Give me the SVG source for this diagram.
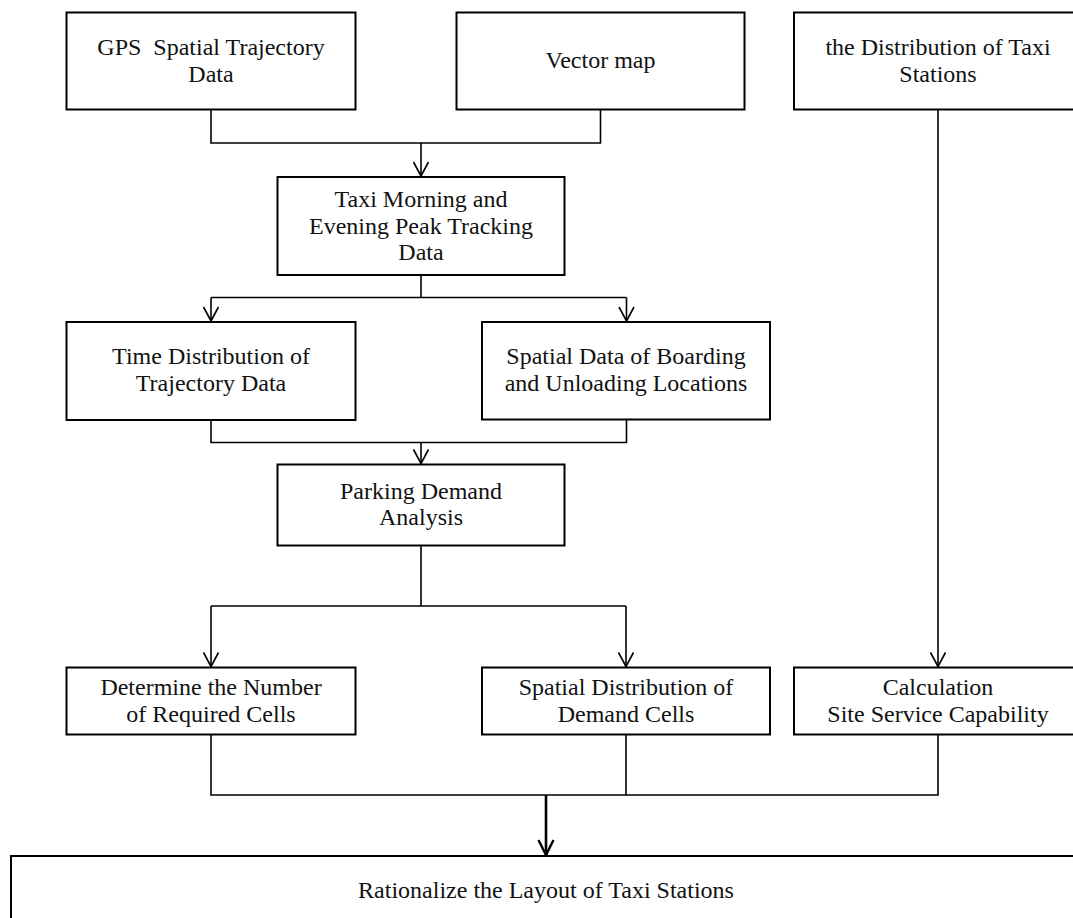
<svg xmlns="http://www.w3.org/2000/svg" width="1073" height="918" viewBox="0 0 1073 918">
  <style>
    .box { fill: #ffffff; stroke: #000000; stroke-width: 2; }
    .lbl { font-family: "Liberation Serif", "Times New Roman", serif; font-size: 24px; fill: #111111; text-anchor: middle; }
    .con { fill: none; stroke: #000000; stroke-width: 1.6; }
    .thick { fill: none; stroke: #000000; stroke-width: 2.6; }
  </style>
  <defs>
    <marker id="arr" markerUnits="userSpaceOnUse" markerWidth="16" markerHeight="18" viewBox="0 0 16 18" refX="15" refY="9" orient="auto" overflow="visible">
      <path d="M1,1.5 L15,9 L1,16.5" fill="none" stroke="#000000" stroke-width="1.6"/>
    </marker>
    <marker id="arrB" markerUnits="userSpaceOnUse" markerWidth="18" markerHeight="18" viewBox="0 0 18 18" refX="16" refY="9" orient="auto" overflow="visible">
      <path d="M1,1.5 L16,9 L1,16.5" fill="none" stroke="#000000" stroke-width="2.4"/>
    </marker>
  </defs>
  <rect width="1073" height="918" fill="#ffffff"/>

  <g id="connectors">
    <path class="con" d="M211,109.5 V143 H600.5 V109.5"/>
    <path class="con" d="M421,143 V176" marker-end="url(#arr)"/>
    <path class="con" d="M421,275 V297.5"/>
    <path class="con" d="M211,297.5 H626.5"/>
    <path class="con" d="M211,297.5 V321" marker-end="url(#arr)"/>
    <path class="con" d="M626.5,297.5 V321" marker-end="url(#arr)"/>
    <path class="con" d="M211,420 V442.5 H626.5 V419.5"/>
    <path class="con" d="M421,442.5 V463.5" marker-end="url(#arr)"/>
    <path class="con" d="M421,545.5 V606"/>
    <path class="con" d="M211,606 H626"/>
    <path class="con" d="M211,606 V666.5" marker-end="url(#arr)"/>
    <path class="con" d="M626,606 V666.5" marker-end="url(#arr)"/>
    <path class="con" d="M938,109.5 V666.5" marker-end="url(#arr)"/>
    <path class="con" d="M211,734.5 V795 H938 V734.5"/>
    <path class="con" d="M626,734.5 V795"/>
    <path class="thick" d="M546,795 V855" marker-end="url(#arrB)"/>
  </g>

  <g id="gps">
    <rect class="box" x="66.5" y="12.5" width="289" height="97"/>
    <text class="lbl" x="211" y="55" xml:space="preserve">GPS  Spatial Trajectory</text>
    <text class="lbl" x="211" y="82">Data</text>
  </g>
  <g id="vector-map">
    <rect class="box" x="456.5" y="12.5" width="288" height="97"/>
    <text class="lbl" x="600.5" y="68">Vector map</text>
  </g>
  <g id="distribution">
    <rect class="box" x="794" y="12.5" width="292" height="97"/>
    <text class="lbl" x="938" y="55">the Distribution of Taxi</text>
    <text class="lbl" x="938" y="82">Stations</text>
  </g>
  <g id="taxi-peak">
    <rect class="box" x="277.5" y="177" width="287" height="98"/>
    <text class="lbl" x="421" y="207">Taxi Morning and</text>
    <text class="lbl" x="421" y="233.5">Evening Peak Tracking</text>
    <text class="lbl" x="421" y="260">Data</text>
  </g>
  <g id="time-distribution">
    <rect class="box" x="66.5" y="322" width="289" height="98"/>
    <text class="lbl" x="211" y="364">Time Distribution of</text>
    <text class="lbl" x="211" y="390.5">Trajectory Data</text>
  </g>
  <g id="spatial-data">
    <rect class="box" x="482" y="322" width="288" height="97.5"/>
    <text class="lbl" x="626" y="364">Spatial Data of Boarding</text>
    <text class="lbl" x="626" y="390.5">and Unloading Locations</text>
  </g>
  <g id="parking-demand">
    <rect class="box" x="277.5" y="464.5" width="287" height="81"/>
    <text class="lbl" x="421" y="498.5">Parking Demand</text>
    <text class="lbl" x="421" y="525">Analysis</text>
  </g>
  <g id="determine-number">
    <rect class="box" x="66.5" y="667.5" width="289" height="67"/>
    <text class="lbl" x="211" y="695">Determine the Number</text>
    <text class="lbl" x="211" y="721.5">of Required Cells</text>
  </g>
  <g id="spatial-distribution">
    <rect class="box" x="482" y="667.5" width="288" height="67"/>
    <text class="lbl" x="626" y="695">Spatial Distribution of</text>
    <text class="lbl" x="626" y="721.5">Demand Cells</text>
  </g>
  <g id="calculation">
    <rect class="box" x="794" y="667.5" width="292" height="67"/>
    <text class="lbl" x="938" y="695">Calculation</text>
    <text class="lbl" x="938" y="721.5">Site Service Capability</text>
  </g>
  <g id="rationalize">
    <rect class="box" x="11" y="856" width="1075" height="80"/>
    <text class="lbl" x="546" y="898">Rationalize the Layout of Taxi Stations</text>
  </g>
</svg>
